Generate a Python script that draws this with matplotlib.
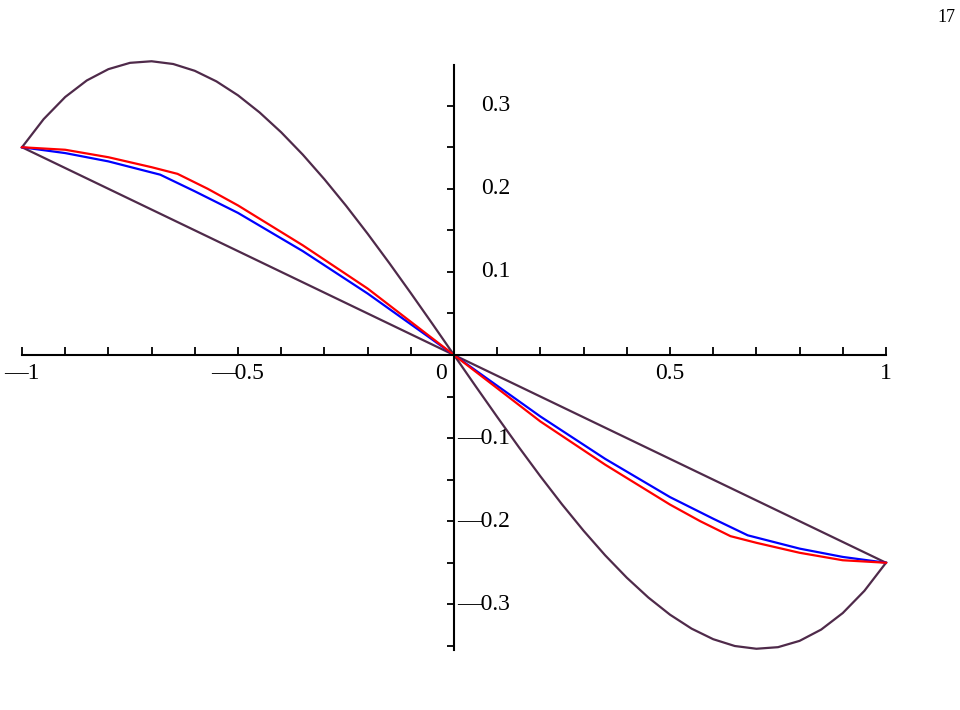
import matplotlib
matplotlib.use("Agg")
import matplotlib.pyplot as plt
import numpy as np
from matplotlib.ticker import MultipleLocator

# read-off data (x <= 0 half; curves are odd-symmetric)
px_x = [-1, -0.95, -0.9, -0.85, -0.8, -0.75, -0.7, -0.65, -0.6, -0.55, -0.5, -0.45,
        -0.4, -0.35, -0.3, -0.25, -0.2, -0.15, -0.1, -0.05, 0]
px_y = [0.25, 0.2838, 0.3105, 0.3304, 0.344, 0.3516, 0.3535, 0.3502, 0.342, 0.3293,
        0.3125, 0.2919, 0.268, 0.2411, 0.2115, 0.1797, 0.146, 0.1108, 0.0745, 0.0375, 0]
line_x = [-1, 0]
line_y = [0.25, 0]
blue_x = [-1, -0.9, -0.8, -0.68, -0.6, -0.5, -0.35, -0.2, -0.1, 0]
blue_y = [0.25, 0.243, 0.233, 0.217, 0.197, 0.171, 0.125, 0.074, 0.037, 0]
red_x = [-1, -0.9, -0.8, -0.7, -0.64, -0.57, -0.5, -0.35, -0.2, -0.1, 0]
red_y = [0.25, 0.247, 0.238, 0.226, 0.218, 0.200, 0.180, 0.132, 0.080, 0.040, 0]
xlabels = {-1: "—1", -0.5: "—0.5", 0.5: "0.5", 1: "1"}
ylabels = {0.3: "0.3", 0.2: "0.2", 0.1: "0.1", -0.1: "—0.1", -0.2: "—0.2", -0.3: "—0.3"}

def full(xs, ys):
    xs = np.array(xs); ys = np.array(ys)
    return np.concatenate([xs, -xs[::-1][1:]]), np.concatenate([ys, -ys[::-1][1:]])

plt.rcParams['font.family'] = ['Liberation Serif', 'DejaVu Serif']
fig = plt.figure(figsize=(9.6, 7.1), dpi=100)
ax = fig.add_axes([22/960, 1-650/710, 864/960, 585/710])
purple = '#4f2a4a'
for xs, ys, c in [(px_x, px_y, purple), (line_x, line_y, purple), (blue_x, blue_y, 'blue'), (red_x, red_y, 'red')]:
    X, Y = full(xs, ys)
    ax.plot(X, Y, color=c, lw=1.6, clip_on=False, solid_joinstyle='round')
ax.set_xlim(-1, 1)
ax.set_ylim(-0.355, 0.349)
for s in ['top', 'right']:
    ax.spines[s].set_visible(False)
ax.spines['left'].set_position(('data', 0))
ax.spines['bottom'].set_position(('data', 0))
for s in ['left', 'bottom']:
    ax.spines[s].set_linewidth(1.5)
ax.xaxis.set_major_locator(MultipleLocator(0.5))
ax.xaxis.set_minor_locator(MultipleLocator(0.1))
ax.yaxis.set_major_locator(MultipleLocator(0.1))
ax.yaxis.set_minor_locator(MultipleLocator(0.05))
ax.tick_params(axis='x', which='both', direction='in', labelbottom=False, length=6, width=1.3)
ax.tick_params(axis='y', which='both', direction='out', labelleft=False, length=5, width=1.3)
for v, t in xlabels.items():
    ax.text(v, -0.01, t, ha='center', va='top', fontsize=17)
ax.text(-0.03, -0.01, "0", ha='center', va='top', fontsize=17)
for v, t in ylabels.items():
    ax.text(0.13, v, t, ha='right', va='center', fontsize=17)
fig.text(955/960, 1-18/710, "17", ha='right', va='center', fontsize=13)
fig.savefig("out.png", dpi=100)
